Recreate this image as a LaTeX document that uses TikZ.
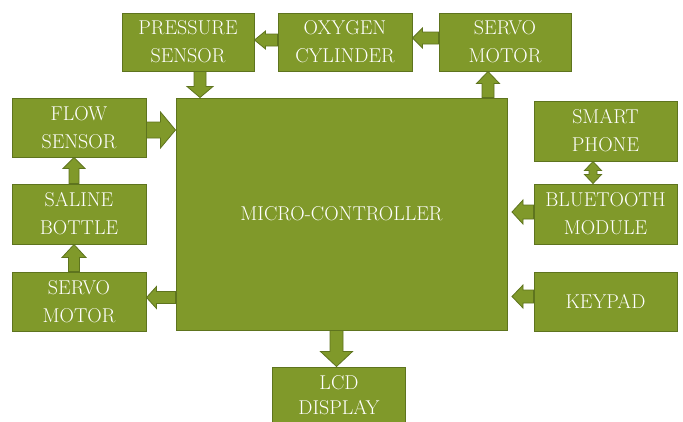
\documentclass[tikz,border=0pt]{standalone}
\usetikzlibrary{calc}
\definecolor{ogreen}{RGB}{128,153,42}
\definecolor{odark}{RGB}{94,116,30}
\tikzset{
  blk/.style={draw=odark, fill=ogreen, line width=1pt, inner sep=0pt, text=white,
    font=\rmfamily\fontsize{20}{28}\selectfont, align=center},
  arrowbody/.style={fill=ogreen, draw=odark, line width=0.8pt, line join=miter}
}
\newcommand\barr[5]{%
  \path (#1) coordinate (bS) (#2) coordinate (bE) ($(bE)!#5!(bS)$) coordinate (bH);
  \draw[arrowbody] ($(bS)!#3!90:(bE)$) -- ($(bH)!#3!90:(bE)$) -- ($(bH)!#4!90:(bE)$) -- (bE)
    -- ($(bH)!#4!-90:(bE)$) -- ($(bH)!#3!-90:(bE)$) -- ($(bS)!#3!-90:(bE)$) -- cycle;}
\newcommand\dbarr[5]{%
  \path (#1) coordinate (bS) (#2) coordinate (bE) ($(bE)!#5!(bS)$) coordinate (bH) ($(bS)!#5!(bE)$) coordinate (bG);
  \draw[arrowbody] (bS) -- ($(bG)!#4!90:(bE)$) -- ($(bG)!#3!90:(bE)$) -- ($(bH)!#3!90:(bE)$) -- ($(bH)!#4!90:(bE)$) -- (bE)
    -- ($(bH)!#4!-90:(bE)$) -- ($(bH)!#3!-90:(bE)$) -- ($(bG)!#3!-90:(bE)$) -- ($(bG)!#4!-90:(bE)$) -- cycle;}
\begin{document}
\begin{tikzpicture}[x=1pt,y=-1pt]
\clip (0,0) rectangle (683,421);
\fill[white] (0,0) rectangle (683,421);
\node[blk, minimum width=132pt, minimum height=58pt] (ps) at (188,42) {PRESSURE\\SENSOR};
\node[blk, minimum width=134pt, minimum height=58pt] (oc) at (345,42) {OXYGEN\\CYLINDER};
\node[blk, minimum width=132pt, minimum height=58pt] (sm1) at (505,42) {SERVO\\MOTOR};
\node[blk, minimum width=134pt, minimum height=59pt] (fs) at (79,127.5) {FLOW\\SENSOR};
\node[blk, minimum width=331pt, minimum height=232pt] (mc) at (341.5,214) {MICRO-CONTROLLER};
\node[blk, minimum width=143pt, minimum height=60pt] (sp) at (605.5,131) {SMART\\PHONE};
\node[blk, minimum width=143pt, minimum height=60pt] (bt) at (605.5,214) {BLUETOOTH\\MODULE};
\node[blk, minimum width=143pt, minimum height=59pt] (kp) at (605.5,301.5) {KEYPAD};
\node[blk, minimum width=134pt, minimum height=60pt] (sb) at (79,214) {SALINE\\BOTTLE};
\node[blk, minimum width=134pt, minimum height=59pt] (sm2) at (79,301.5) {SERVO\\MOTOR};
\node[blk, minimum width=133pt, minimum height=56pt, font=\rmfamily\fontsize{20}{25}\selectfont] (lcd) at (339,395) {LCD\\DISPLAY};
\fill[ogreen] ($(lcd.south west)+(0.5,-0.5)$) rectangle ($(lcd.south east)+(-0.5,40)$);
\draw[odark, line width=1pt] (lcd.south west) -- ++(0,40) (lcd.south east) -- ++(0,40);
% arrows
\barr{oc.west |- 0,40}{ps.east |- 0,40}{6pt}{9pt}{11pt}
\barr{sm1.west |- 0,38}{oc.east |- 0,38}{6pt}{10pt}{10pt}
\barr{488,0 |- mc.north}{488,0 |- sm1.south}{6pt}{11.5pt}{12pt}
\barr{200,0 |- ps.south}{200,0 |- mc.north}{6pt}{13pt}{11pt}
\barr{fs.east |- 0,130}{mc.west |- 0,130}{8pt}{18pt}{15pt}
\barr{74,0 |- sb.north}{74,0 |- fs.south}{5pt}{11pt}{11pt}
\barr{74,0 |- sm2.north}{74,0 |- sb.south}{5.5pt}{12pt}{13pt}
\barr{mc.west |- 0,297.5}{sm2.east |- 0,297.5}{6pt}{11pt}{10pt}
\barr{336.5,0 |- mc.south}{336.5,0 |- lcd.north}{6.5pt}{16pt}{15pt}
\dbarr{593,0 |- sp.south}{593,0 |- bt.north}{4pt}{8.5pt}{9pt}
\barr{bt.west |- 0,212}{512,212}{7pt}{12pt}{11pt}
\barr{kp.west |- 0,296.5}{512,296.5}{6.5pt}{11.5pt}{11pt}
\end{tikzpicture}
\end{document}
